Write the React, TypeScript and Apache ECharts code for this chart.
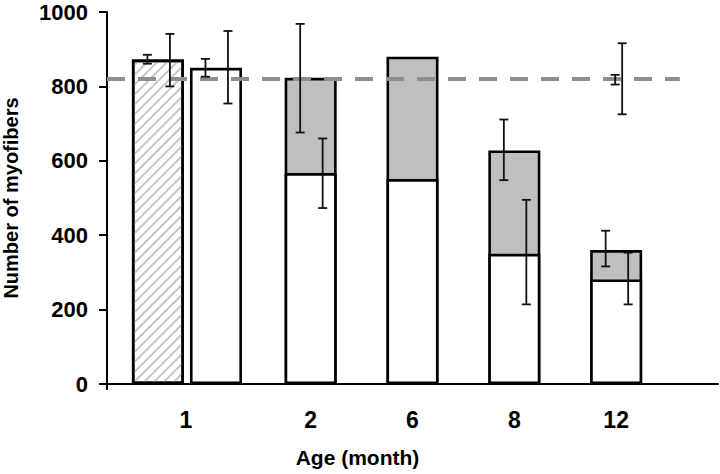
import React, { useEffect, useRef } from 'react';
import * as echarts from 'echarts';

// ---- data ----
const ageLabels = ['1', '2', '6', '8', '12'];
const labelSlots = [1.55, 4, 6, 8, 10];
const barSlots = [2.14, 4, 6, 8, 10];
const hatchedSlot = 1;
const hatchedValue = 872;
const whiteValues = [850, 567, 551, 350, 281];
const totalValues: (number | null)[] = [null, 823, 880, 628, 360];
const hatchedErrLeft = [861, 885];
const hatchedErrRight = [800, 941];
const errLeft: (number[] | null)[] = [[826, 874], [676, 968], null, [548, 711], [316, 412]];
const errRight: (number[] | null)[] = [[754, 949], [473, 660], null, [214, 495], [214, 353]];
const referenceValue = 820;
const referenceEnd = 11.25;
const referenceSlot = 10;
const referenceErrSmall = [805, 831];
const referenceErrLarge = [725, 916];
const yTicks = [0, 200, 400, 600, 800, 1000];

const FONT = '"Liberation Sans", Arial, sans-serif';

function errRenderer(offsetPx: number) {
  return (params: any, api: any) => {
    const x = api.value(0);
    const lo = api.value(1);
    const hi = api.value(2);
    const pLo = api.coord([x, lo]);
    const pHi = api.coord([x, hi]);
    const cx = pLo[0] + offsetPx;
    const cap = 4.5;
    const style = { stroke: '#111', lineWidth: 1.8 };
    return {
      type: 'group',
      children: [
        { type: 'line', shape: { x1: cx, y1: pHi[1], x2: cx, y2: pLo[1] }, style },
        { type: 'line', shape: { x1: cx - cap, y1: pHi[1], x2: cx + cap, y2: pHi[1] }, style },
        { type: 'line', shape: { x1: cx - cap, y1: pLo[1], x2: cx + cap, y2: pLo[1] }, style },
      ],
    };
  };
}

export default function App() {
  const ref = useRef<HTMLDivElement>(null);
  useEffect(() => {
    document.body.style.margin = '0';
    if (!ref.current) return;
    const chart = echarts.init(ref.current, undefined, { renderer: 'svg' });

    const totalData = totalValues
      .map((v, i) => (v == null ? null : [barSlots[i], v]))
      .filter((d) => d != null);
    const whiteData = whiteValues.map((v, i) => [barSlots[i], v]);
    const leftErrData = [[hatchedSlot, hatchedErrLeft[0], hatchedErrLeft[1]]].concat(
      errLeft.map((e, i) => (e ? [barSlots[i], e[0], e[1]] : null)).filter((d) => d != null) as any
    );
    const rightErrData = [[hatchedSlot, hatchedErrRight[0], hatchedErrRight[1]]].concat(
      errRight.map((e, i) => (e ? [barSlots[i], e[0], e[1]] : null)).filter((d) => d != null) as any
    );

    const barCommon = {
      type: 'bar',
      barWidth: 52,
      barGap: '-100%',
      z: 2,
    };

    chart.setOption({
      animation: false,
      grid: { left: 107, right: 2, top: 12, bottom: 90, containLabel: false, outerBoundsMode: 'none' },
      xAxis: {
        type: 'value',
        min: 0,
        max: 12,
        name: 'Age (month)',
        nameLocation: 'middle',
        nameGap: 63,
        nameTextStyle: {
          fontFamily: FONT,
          fontWeight: 'bold',
          fontSize: 21,
          color: '#000',
          padding: [0, 110, 0, 0],
        },
        axisLine: { show: true, lineStyle: { color: '#000', width: 2 } },
        axisTick: { show: true, customValues: [0], length: 6, lineStyle: { color: '#000', width: 2 } },
        splitLine: { show: false },
        axisLabel: {
          customValues: labelSlots,
          formatter: (v: number) => {
            const i = labelSlots.findIndex((s) => Math.abs(s - v) < 1e-6);
            return i >= 0 ? ageLabels[i] : '';
          },
          fontFamily: FONT,
          fontWeight: 'bold',
          fontSize: 23,
          color: '#000',
          margin: 24,
        },
      },
      yAxis: {
        type: 'value',
        min: 0,
        max: 1000,
        interval: 200,
        name: 'Number of myofibers',
        nameLocation: 'middle',
        nameGap: 86,
        nameTextStyle: { fontFamily: FONT, fontWeight: 'bold', fontSize: 20, color: '#000' },
        axisLine: { show: true, lineStyle: { color: '#000', width: 2 } },
        axisTick: { show: true, length: 8, lineStyle: { color: '#000', width: 2 } },
        splitLine: { show: false },
        axisLabel: {
          formatter: (v: number) => (yTicks.includes(v) ? String(v) : ''),
          fontFamily: FONT,
          fontWeight: 'bold',
          fontSize: 22,
          lineHeight: 18,
          color: '#000',
          margin: 19,
        },
      },
      series: [
        {
          ...barCommon,
          name: 'total',
          data: totalData,
          itemStyle: { color: '#bfbfbf', borderColor: '#000', borderWidth: 2.6 },
        },
        {
          ...barCommon,
          name: 'white',
          data: whiteData,
          itemStyle: { color: '#ffffff', borderColor: '#000', borderWidth: 2.6 },
        },
        {
          ...barCommon,
          name: 'hatched',
          data: [[hatchedSlot, hatchedValue]],
          itemStyle: {
            color: '#ffffff',
            borderColor: '#000',
            borderWidth: 2.6,
            decal: {
              symbol: 'rect',
              symbolSize: 1,
              color: '#c6c6c6',
              dashArrayX: [1, 0],
              dashArrayY: [2, 4.5],
              rotation: -Math.PI / 4,
            },
          },
        },
        {
          type: 'line',
          name: 'reference',
          data: [[0, referenceValue], [referenceEnd, referenceValue]],
          symbol: 'none',
          z: 3,
          lineStyle: { color: '#8e8e8e', width: 4, type: [18, 13] },
        },
        {
          type: 'custom',
          name: 'errLeft',
          data: leftErrData,
          encode: { x: 0, y: [1, 2] },
          renderItem: errRenderer(-10.5),
          z: 4,
        },
        {
          type: 'custom',
          name: 'errRight',
          data: rightErrData,
          encode: { x: 0, y: [1, 2] },
          renderItem: errRenderer(12),
          z: 4,
        },
        {
          type: 'custom',
          name: 'refErrSmall',
          data: [[referenceSlot, referenceErrSmall[0], referenceErrSmall[1]]],
          encode: { x: 0, y: [1, 2] },
          renderItem: errRenderer(-1),
          z: 4,
        },
        {
          type: 'custom',
          name: 'refErrLarge',
          data: [[referenceSlot, referenceErrLarge[0], referenceErrLarge[1]]],
          encode: { x: 0, y: [1, 2] },
          renderItem: errRenderer(6),
          z: 4,
        },
      ],
    });
    return () => chart.dispose();
  }, []);
  return <div ref={ref} style={{ width: 720, height: 474 }} />;
}
